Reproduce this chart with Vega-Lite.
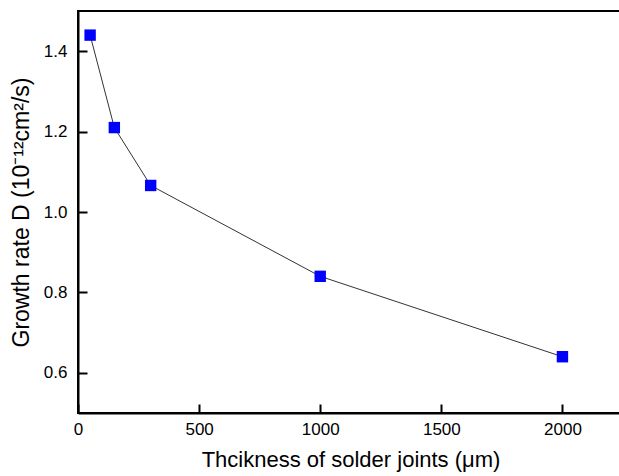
{
  "$schema": "https://vega.github.io/schema/vega-lite/v6.json",
  "autosize": {"type": "none"},
  "padding": {"left": 78, "top": 11, "right": 0, "bottom": 63},
  "width": 545,
  "height": 402,
  "background": "white",
  "config": {
    "view": {"stroke": "black", "strokeWidth": 2},
    "font": "Liberation Sans"
  },
  "data": {
    "values": [
      {"t": 50, "d": 1.44},
      {"t": 150, "d": 1.21},
      {"t": 300, "d": 1.066},
      {"t": 1000, "d": 0.84},
      {"t": 2000, "d": 0.64}
    ]
  },
  "encoding": {
    "x": {
      "field": "t", "type": "quantitative",
      "scale": {"domain": [0, 2250], "nice": false},
      "axis": {
        "values": [0, 500, 1000, 1500, 2000], "format": "d",
        "title": "Thcikness of solder joints (μm)",
        "grid": false, "domainColor": "black", "domainWidth": 2,
        "tickColor": "black", "tickWidth": 2, "tickSize": -9,
        "labelFlush": false,
        "labelFontSize": 17, "labelColor": "black", "labelPadding": 17,
        "titleFontSize": 22, "titleFontWeight": "normal", "titleColor": "black", "titlePadding": 12
      }
    },
    "y": {
      "field": "d", "type": "quantitative",
      "scale": {"domain": [0.5, 1.5], "nice": false, "zero": false},
      "axis": {
        "values": [0.6, 0.8, 1.0, 1.2, 1.4], "format": ".1f",
        "title": "Growth rate D (10⁻¹²cm²/s)",
        "grid": false, "domainColor": "black", "domainWidth": 2,
        "tickColor": "black", "tickWidth": 2, "tickSize": -9,
        "labelFlush": false,
        "labelFontSize": 17, "labelColor": "black", "labelPadding": 20,
        "titleFontSize": 23, "titleFontWeight": "normal", "titleColor": "black", "titlePadding": 10
      }
    }
  },
  "layer": [
    {"mark": {"type": "line", "color": "#333333", "strokeWidth": 1}},
    {"mark": {"type": "point", "shape": "square", "filled": true, "color": "#0000FF", "size": 130, "opacity": 1}}
  ]
}
